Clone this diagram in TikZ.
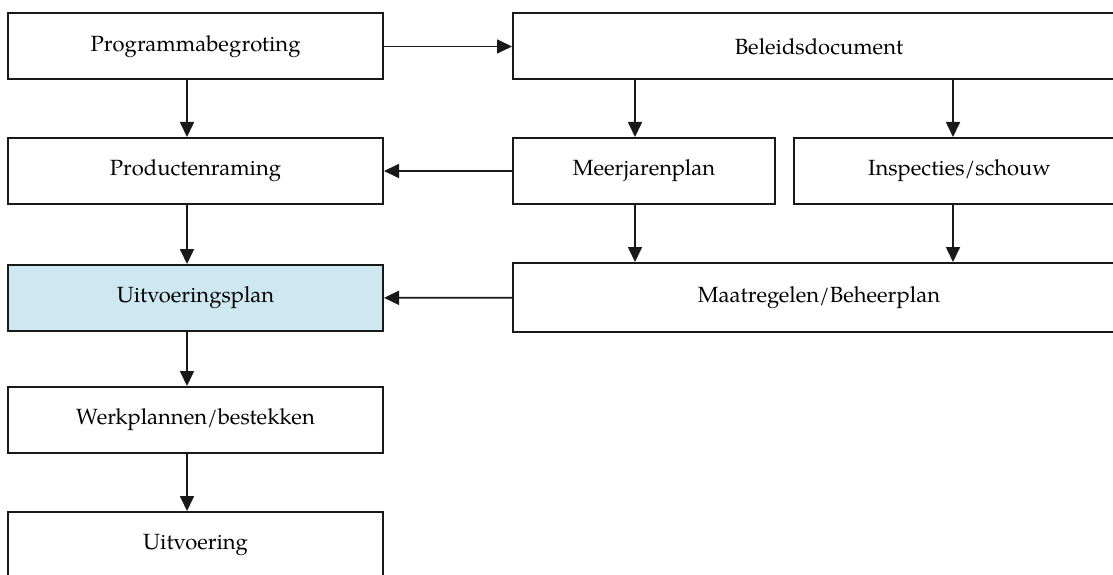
\documentclass[tikz,border=0pt]{standalone}
\usepackage{fontspec}
\setmainfont{texgyrepagella}[Extension=.otf, UprightFont=*-regular, BoldFont=*-bold, ItalicFont=*-italic, BoldItalicFont=*-bolditalic]
\definecolor{plan_blue}{RGB}{206, 232, 241}
\definecolor{plan_line}{RGB}{25, 25, 25}
\usepackage{tikz}
\usetikzlibrary{arrows.meta, positioning, calc}

\begin{document}
\begin{tikzpicture}[
        x=1pt, y=-1pt,
        box/.style={draw=plan_line, line width=2pt, fill=white,
                    minimum width=375pt, minimum height=66pt,
                    inner sep=0pt, font=\fontsize{22}{26}\selectfont, align=center},
        arr/.style={-{Triangle[length=15pt, width=14pt]}, plan_line, line width=1.7pt},
      ]
        \useasboundingbox (0,0) rectangle (1113,575);

        % left column
        \node[box] (prog)  at (195.5, 46.5) {Programmabegroting};
        \node[box] (prod)  at (195.5, 171)  {Productenraming};
        \node[box, fill=plan_blue] (uplan) at (195.5, 298) {Uitvoeringsplan};
        \node[box] (werk)  at (195.5, 420)  {Werkplannen/bestekken};
        \node[box] (uitv)  at (195.5, 545)  {Uitvoering};

        % right side
        \node[box, minimum width=612pt] (beleid) at (819, 46.5)  {Beleidsdocument};
        \node[box, minimum width=262pt] (meer)   at (644, 171)   {Meerjarenplan};
        \node[box, minimum width=331pt] (insp)   at (959.5, 171) {Inspecties/schouw};
        \node[box, minimum width=612pt, minimum height=69pt] (maat) at (819, 297.5) {Maatregelen/Beheerplan};

        \coordinate (colL) at (187, 0);
        \coordinate (colM) at (635, 0);
        \coordinate (colI) at (953, 0);

        \draw[arr] (prog) -- (beleid);
        \draw[arr] (meer) -- (prod);
        \draw[arr] (maat) -- (uplan);

        \draw[arr] (prog.south -| colL)  -- (prod.north -| colL);
        \draw[arr] (prod.south -| colL)  -- (uplan.north -| colL);
        \draw[arr] (uplan.south -| colL) -- (werk.north -| colL);
        \draw[arr] (werk.south -| colL)  -- (uitv.north -| colL);

        \draw[arr] (beleid.south -| colM) -- (meer.north -| colM);
        \draw[arr] (beleid.south -| colI) -- (insp.north -| colI);
        \draw[arr] (meer.south -| colM)   -- (maat.north -| colM);
        \draw[arr] (insp.south -| colI)   -- (maat.north -| colI);
      \end{tikzpicture}
\end{document}
